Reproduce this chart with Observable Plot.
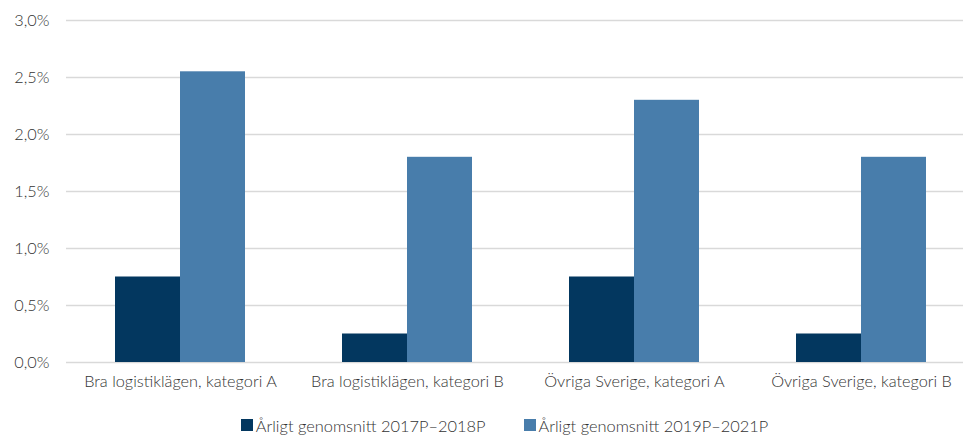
<!DOCTYPE html>
<html>
<head>
<meta charset="utf-8">
<script src="https://cdn.jsdelivr.net/npm/d3@7"></script>
<script src="https://cdn.jsdelivr.net/npm/@observablehq/plot@0.6"></script>
<style>
  html, body { margin: 0; padding: 0; background: #fff; overflow: hidden; }
  body { width: 963px; height: 443px; font-family: Lato, "Open Sans", sans-serif; font-weight: 300; color: #333; }
  #legend { display: flex; justify-content: center; align-items: center; height: 40px; font-size: 16.4px; padding-left: 46px; }
  .item { display: flex; align-items: center; margin: 0 19px; }
  .sw { width: 12px; height: 12px; margin-right: 3px; }
  svg text { font-weight: 300; }
</style>
</head>
<body>
<div id="chart"></div>
<div id="legend"></div>
<script>
const categories = ["Bra logistiklägen, kategori A", "Bra logistiklägen, kategori B", "Övriga Sverige, kategori A", "Övriga Sverige, kategori B"];
const series = ["Årligt genomsnitt 2017P–2018P", "Årligt genomsnitt 2019P–2021P"];
const values2017 = [0.75, 0.25, 0.75, 0.25];
const values2019 = [2.55, 1.8, 2.3, 1.8];
const yTicks = [0, 0.5, 1, 1.5, 2, 2.5, 3];
const colors = ["#03375f", "#487dab"];

const data = [];
categories.forEach((c, i) => {
  data.push({category: c, series: series[0], value: values2017[i]});
  data.push({category: c, series: series[1], value: values2019[i]});
});

const fmt = d => d.toFixed(1).replace(".", ",") + "%";
const half = 65;

const chart = Plot.plot({
  width: 963,
  height: 405,
  marginLeft: 66,
  marginRight: 0,
  marginTop: 20,
  marginBottom: 43,
  style: {fontFamily: "Lato, 'Open Sans', sans-serif", fontSize: "16.3px", color: "#333", background: "#fff"},
  x: {domain: categories, range: [65.3, 974.9], paddingInner: 0.428, paddingOuter: 0.214},
  y: {domain: [0, 3]},
  color: {domain: series, range: colors},
  marks: [
    Plot.ruleY(yTicks, {stroke: "#d9d9d9", strokeWidth: 1.3}),
    Plot.barY(data.filter(d => d.series === series[0]), {x: "category", y: "value", fill: "series", insetRight: half}),
    Plot.barY(data.filter(d => d.series === series[1]), {x: "category", y: "value", fill: "series", insetLeft: half}),
    Plot.axisY(yTicks, {tickSize: 0, tickPadding: 17, tickFormat: fmt, label: null}),
    Plot.axisX({tickSize: 0, tickPadding: 13, label: null})
  ]
});
document.getElementById("chart").appendChild(chart);

const legend = document.getElementById("legend");
series.forEach((s, i) => {
  const item = document.createElement("div");
  item.className = "item";
  const sw = document.createElement("div");
  sw.className = "sw";
  sw.style.background = colors[i];
  const t = document.createElement("span");
  t.textContent = s;
  item.appendChild(sw);
  item.appendChild(t);
  legend.appendChild(item);
});
</script>
</body>
</html>
